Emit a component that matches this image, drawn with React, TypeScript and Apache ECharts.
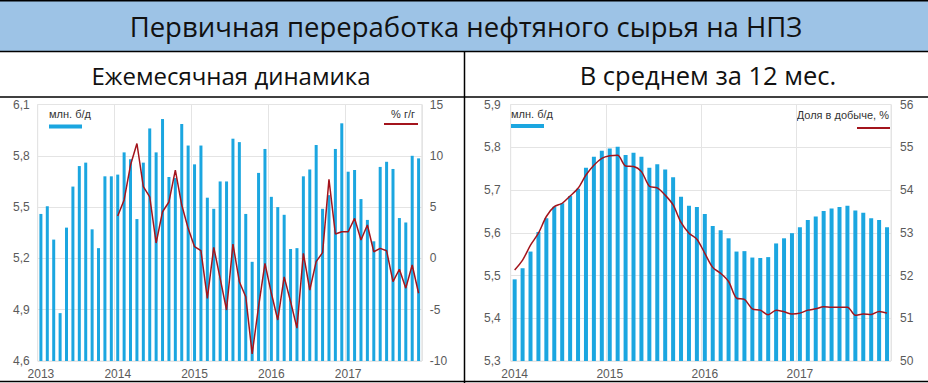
import React, { useEffect, useRef } from "react";
import * as echarts from "echarts";

const TITLE = "Первичная переработка нефтяного сырья на НПЗ";
const SUB_LEFT = "Ежемесячная динамика";
const SUB_RIGHT = "В среднем за 12 мес.";

const yearsLeft = [2013, 2014, 2015, 2016, 2017];
const yearsRight = [2014, 2015, 2016, 2017];

// Monthly primary refining, mln b/d (Jan 2013 – Dec 2017)
const monthlyVolume = [
  5.46, 5.505, 5.31, 4.88, 5.38, 5.62, 5.74, 5.76, 5.37, 5.26, 5.68, 5.68,
  5.69, 5.82, 5.78, 5.43, 5.76, 5.96, 5.82, 6.015, 5.676, 5.67, 5.986, 5.86,
  5.75, 5.86, 5.555, 5.49, 5.65, 5.65, 5.9, 5.88, 5.46, 5.18, 5.7, 5.84,
  5.56, 5.5, 5.455, 5.255, 5.26, 5.68, 5.72, 5.863, 5.49, 5.57, 5.84, 5.99,
  5.707, 5.717, 5.547, 5.425, 5.3, 5.735, 5.765, 5.723, 5.436, 5.41, 5.8, 5.785,
];

// Year-on-year change, %
const monthlyYoY: (number | null)[] = [
  null, null, null, null, null, null, null, null, null, null, null, null,
  4.13, 5.7, 9.1, 11.2, 7.0, 6.0, 1.5, 4.55, 5.5, 8.6, 5.2, 2.93,
  1.14, 0.75, -3.9, 1.08, -1.94, -5.03, 1.4, -2.27, -3.73, -9.3, -4.7, -0.48,
  -3.4, -6.0, -1.8, -4.2, -6.8, 0.5, -3.08, -0.32, 0.56, 7.7, 2.38, 2.6,
  2.6, 3.9, 1.8, 3.26, 0.65, 0.98, 0.75, -2.27, -1.06, -2.9, -0.64, -3.4,
];

// 12-month average, mln b/d (Jan 2014 – Dec 2017)
const avgVolume = [
  5.491, 5.517, 5.556, 5.602, 5.634, 5.661, 5.669, 5.686, 5.703, 5.752, 5.778, 5.792,
  5.797, 5.801, 5.782, 5.787, 5.778, 5.752, 5.76, 5.748, 5.73, 5.684, 5.663, 5.66,
  5.644, 5.616, 5.606, 5.587, 5.556, 5.557, 5.542, 5.541, 5.543, 5.575, 5.587, 5.599,
  5.613, 5.63, 5.638, 5.651, 5.657, 5.66, 5.663, 5.652, 5.647, 5.634, 5.63, 5.613,
];

// Share in production, %
const avgShare = [
  52.13, 52.36, 52.71, 52.99, 53.38, 53.61, 53.69, 53.86, 54.04, 54.35, 54.58, 54.74,
  54.8, 54.81, 54.56, 54.55, 54.43, 54.09, 54.05, 53.88, 53.65, 53.24, 52.99, 52.85,
  52.52, 52.19, 52.05, 51.86, 51.47, 51.44, 51.22, 51.19, 51.08, 51.19, 51.15, 51.1,
  51.12, 51.19, 51.22, 51.27, 51.26, 51.26, 51.26, 51.07, 51.1, 51.09, 51.16, 51.12,
];

const monthsOf = (years: number[]) => {
  const out: string[] = [];
  years.forEach((y) => {
    for (let m = 1; m <= 12; m++) out.push(`${y}-${m < 10 ? "0" + m : m}`);
  });
  return out;
};

const catsLeft = monthsOf(yearsLeft);
const catsRight = monthsOf(yearsRight);

const BLUE = "#1BA6E0";
const RED = "#A3141C";
const GRID_C = "#E4E4E4";
const LABEL_C = "#5A5A5A";
const AX_FONT = "Liberation Sans";

const comma = (d: number) => (v: number) => v.toFixed(d).replace(".", ",");

export default function App() {
  const ref = useRef<HTMLDivElement>(null);
  useEffect(() => {
    if (!ref.current) return;
    const chart = echarts.init(ref.current, undefined, { renderer: "svg" });
    const yearTick = (i: number) => i % 12 === 0;
    const xCommon = (gridIndex: number, data: string[]) => ({
      type: "category" as const,
      gridIndex,
      data,
      axisLine: { show: false },
      axisTick: { show: false },
      axisLabel: {
        interval: yearTick,
        formatter: (v: string) => v.slice(0, 4),
        color: LABEL_C,
        fontSize: 12,
        fontFamily: AX_FONT,
        margin: 7,
      },
      splitLine: { show: true, interval: yearTick, lineStyle: { color: GRID_C, width: 1 } },
    });
    const yCommon = (gridIndex: number, position: "left" | "right", min: number, max: number, interval: number, fmt: (v: number) => string, showSplit: boolean, margin: number) => ({
      type: "value" as const,
      gridIndex,
      position,
      min,
      max,
      interval,
      axisLine: { show: false },
      axisTick: { show: false },
      axisLabel: { formatter: fmt, color: LABEL_C, fontSize: 12, fontFamily: AX_FONT, margin },
      splitLine: { show: showSplit, lineStyle: { color: GRID_C, width: 1 } },
    });
    const legendText = (text: string, x: number, y: number, align: string) => ({
      type: "text",
      x,
      y,
      style: { text, fill: "#333", font: `11px ${AX_FONT}`, textAlign: align, textVerticalAlign: "middle" },
    });
    const legendLine = (x1: number, x2: number, y: number, color: string, w: number) => ({
      type: "line",
      shape: { x1, y1: y, x2, y2: y },
      style: { stroke: color, lineWidth: w },
    });
    chart.setOption({
      animation: false,
      backgroundColor: "#fff",
      grid: [
        { left: 37.7, top: 104.5, width: 384.1, height: 256.5, show: true, borderColor: GRID_C, borderWidth: 1 },
        { left: 510.7, top: 104.5, width: 380.3, height: 256.5, show: true, borderColor: GRID_C, borderWidth: 1 },
      ],
      xAxis: [xCommon(0, catsLeft), xCommon(1, catsRight)],
      yAxis: [
        yCommon(0, "left", 4.6, 6.1, 0.3, comma(1), true, 8),
        yCommon(0, "right", -10, 15, 5, (v: number) => String(v), false, 8),
        yCommon(1, "left", 5.3, 5.9, 0.1, comma(1), true, 10),
        yCommon(1, "right", 50, 56, 1, (v: number) => String(v), false, 9),
      ],
      series: [
        {
          name: "млн. б/д",
          type: "bar",
          xAxisIndex: 0,
          yAxisIndex: 0,
          data: monthlyVolume,
          barWidth: 3,
          itemStyle: { color: BLUE },
        },
        {
          name: "% г/г",
          type: "line",
          xAxisIndex: 0,
          yAxisIndex: 1,
          data: monthlyYoY,
          showSymbol: false,
          lineStyle: { color: RED, width: 1.5 },
          itemStyle: { color: RED },
        },
        {
          name: "млн. б/д (12 мес.)",
          type: "bar",
          xAxisIndex: 1,
          yAxisIndex: 2,
          data: avgVolume,
          barWidth: 4,
          itemStyle: { color: BLUE },
        },
        {
          name: "Доля в добыче, %",
          type: "line",
          xAxisIndex: 1,
          yAxisIndex: 3,
          data: avgShare,
          smooth: 0.3,
          showSymbol: false,
          lineStyle: { color: RED, width: 1.5 },
          itemStyle: { color: RED },
        },
      ],
      graphic: [
        { type: "rect", shape: { x: 0, y: 0, width: 928, height: 51 }, style: { fill: "#9DC3E6" } },
        { type: "line", shape: { x1: 0, y1: 0.75, x2: 928, y2: 0.75 }, style: { stroke: "#000", lineWidth: 1.5 } },
        { type: "line", shape: { x1: 0, y1: 51.5, x2: 928, y2: 51.5 }, style: { stroke: "#000", lineWidth: 1.5 } },
        { type: "line", shape: { x1: 0, y1: 97, x2: 928, y2: 97 }, style: { stroke: "#000", lineWidth: 1.5 } },
        { type: "line", shape: { x1: 0, y1: 381.5, x2: 928, y2: 381.5 }, style: { stroke: "#000", lineWidth: 1.5 } },
        { type: "line", shape: { x1: 464.5, y1: 51, x2: 464.5, y2: 383 }, style: { stroke: "#000", lineWidth: 1.5 } },
        {
          type: "text",
          x: 466,
          y: 26,
          style: { text: TITLE, fill: "#111", font: '27.5px "Open Sans"', textAlign: "center", textVerticalAlign: "middle" },
        },
        {
          type: "text",
          x: 231,
          y: 75,
          style: { text: SUB_LEFT, fill: "#111", font: '24px "Open Sans"', textAlign: "center", textVerticalAlign: "middle" },
        },
        {
          type: "text",
          x: 708,
          y: 75,
          style: { text: SUB_RIGHT, fill: "#111", font: '25.5px "Open Sans"', textAlign: "center", textVerticalAlign: "middle" },
        },
        legendText("млн. б/д", 49, 114, "left"),
        legendLine(49, 82, 126.5, BLUE, 4),
        legendText("% г/г", 415, 114, "right"),
        legendLine(384, 418, 124, RED, 2),
        legendText("млн. б/д", 511, 114, "left"),
        legendLine(511, 544, 126, BLUE, 4),
        legendText("Доля в добыче, %", 889, 115, "right"),
        legendLine(857, 890, 128, RED, 2),
      ],
    });
    return () => chart.dispose();
  }, []);
  return (
    <div
      ref={ref}
      style={{ position: "absolute", left: 0, top: 0, width: 928, height: 383, background: "#fff" }}
    />
  );
}
